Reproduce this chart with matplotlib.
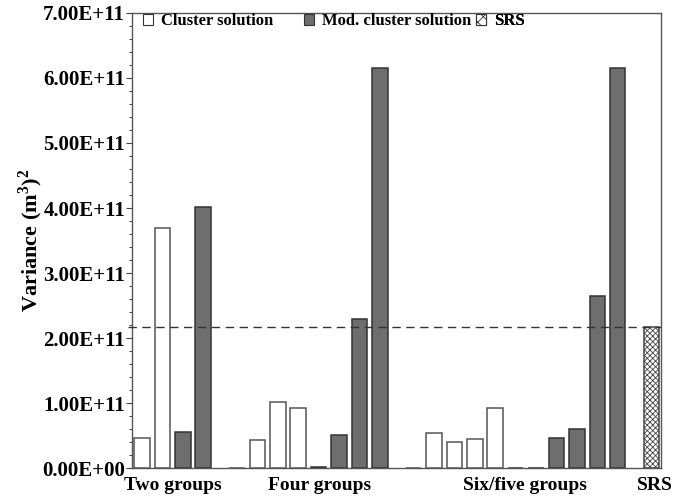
import numpy as np
import matplotlib
matplotlib.use("Agg")
import matplotlib.pyplot as plt
from matplotlib.patches import Patch
from matplotlib.ticker import MultipleLocator, FuncFormatter

plt.rcParams['font.family'] = ['Liberation Serif', 'DejaVu Serif']
plt.rcParams['font.weight'] = 'bold'
plt.rcParams['axes.labelweight'] = 'bold'
plt.rcParams['mathtext.fontset'] = 'custom'
plt.rcParams['mathtext.rm'] = 'Liberation Serif:bold'
plt.rcParams['mathtext.bf'] = 'Liberation Serif:bold'
plt.rcParams['hatch.linewidth'] = 0.6

# variances (in units of 1e11 m^6) per group scheme
groups = ["Two groups", "Four groups", "Six/five groups", "SRS"]
cluster_two = [0.47, 3.70]
mod_two = [0.56, 4.02]
cluster_four = [0.005, 0.43, 1.01, 0.92]
mod_four = [0.02, 0.51, 2.30, 6.15]
cluster_six = [0.005, 0.54, 0.40, 0.45, 0.92]
mod_five = [0.01, 0.01, 0.47, 0.61, 2.65, 6.15]
srs = 2.17

blocks = [(cluster_two, mod_two), (cluster_four, mod_four), (cluster_six, mod_five)]

fig = plt.figure(figsize=(6.85, 4.97), dpi=100)
ax = fig.add_axes([0.1927, 0.058, 0.7723, 0.916])

white_kw = dict(color='white', edgecolor='#555555', linewidth=1.1)
dark_kw = dict(color='#6e6e6e', edgecolor='#333333', linewidth=1.1)
width = 0.76
gap = 0.65

pos = 0.0
label_x = []
for cl, md in blocks:
    start = pos
    x = pos + np.arange(len(cl))
    ax.bar(x, np.array(cl) * 1e11, width, **white_kw)
    pos += len(cl)
    x = pos + np.arange(len(md))
    ax.bar(x, np.array(md) * 1e11, width, **dark_kw)
    pos += len(md)
    label_x.append((start + pos - 1) / 2)
    pos += gap
ax.bar([pos], [srs * 1e11], width, color='white', edgecolor='#444444',
       linewidth=1.1, hatch='xxxxxx')
label_x.append(pos)

# shift the text a bit as in the printed layout
label_x = [label_x[0], label_x[1] + 0.55, label_x[2] + 0.45, label_x[3] + 0.17]

ax.axhline(srs * 1e11, xmin=-0.008, xmax=1, color='#333333', lw=1.0,
           dashes=(6, 4), clip_on=False, zorder=3)

ax.set_xlim(-0.49, pos + 0.47)
ax.set_ylim(0, 7e11)
ax.yaxis.set_major_locator(MultipleLocator(1e11))
ax.yaxis.set_minor_locator(MultipleLocator(2e10))
ax.yaxis.set_major_formatter(FuncFormatter(lambda v, p: '{:.2E}'.format(v)))
ax.tick_params(axis='y', which='major', length=4, width=0.8, labelsize=15,
               pad=1, color='#444444')
ax.tick_params(axis='y', which='minor', length=2.5, width=0.7, color='#444444')
ax.set_xticks(label_x)
ax.set_xticklabels(groups, fontsize=14)
ax.tick_params(axis='x', length=0, pad=6)

for s in ax.spines.values():
    s.set_color('#555555')
    s.set_linewidth(1.0)

ax.set_ylabel('Variance (m$^{3}$)$^{2}$', fontsize=16)
ax.yaxis.set_label_coords(-0.165, 0.5)

# legend entries laid out one by one along the top
labels = ['Cluster solution', 'Mod. cluster solution', 'SRS']
handles = [Patch(facecolor='white', edgecolor='#333333', linewidth=0.8),
           Patch(facecolor='#6e6e6e', edgecolor='#333333', linewidth=0.8),
           Patch(facecolor='white', edgecolor='#333333', linewidth=0.8, hatch='xxx')]
anchors = [-0.008, 0.296, 0.622]
for h, lab, a in zip(handles, labels, anchors):
    leg = ax.legend([h], [lab], loc='upper left', bbox_to_anchor=(a, 1.032),
                    frameon=False, handlelength=0.6, handleheight=0.6,
                    handletextpad=0.5, fontsize=12)
    ax.add_artist(leg)

fig.savefig('out.png', dpi=100)
